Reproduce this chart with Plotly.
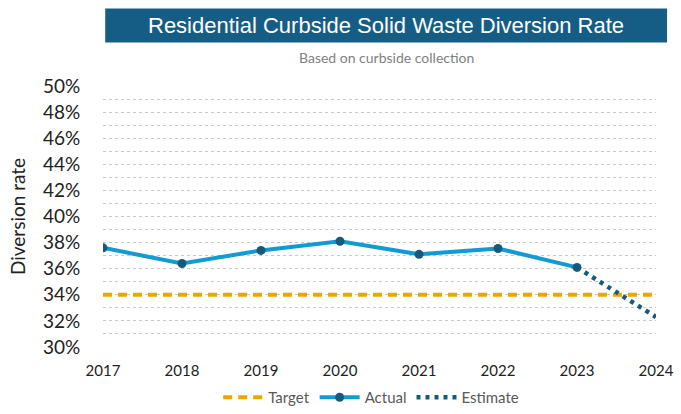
import plotly.graph_objects as go

years = [2017, 2018, 2019, 2020, 2021, 2022, 2023]
actual = [37.6, 36.4, 37.4, 38.1, 37.1, 37.55, 36.1]
est_years = [2023, 2024]
estimate = [36.1, 32.3]
target_years = [2017, 2024]
target = [34, 34]
y_ticks = list(range(30, 51, 2))
y_labels = [f"{v}%" for v in y_ticks]

fig = go.Figure()
fig.add_trace(go.Scatter(x=target_years, y=target, mode="lines", name="Target",
                         line=dict(color="#eda500", width=4, dash="9px,6px")))
fig.add_trace(go.Scatter(x=years, y=actual, mode="lines+markers", name="Actual",
                         line=dict(color="#149ad3", width=4),
                         marker=dict(color="#165a7e", size=9)))
fig.add_trace(go.Scatter(x=est_years, y=estimate, mode="lines", name="Estimate",
                         line=dict(color="#165a7e", width=4.5, dash="4px,5px")))

fig.update_layout(
    width=681, height=414,
    margin=dict(l=103, r=25, t=86, b=67, autoexpand=False),
    plot_bgcolor="white", paper_bgcolor="white",
    font=dict(family="Lato, Liberation Sans, sans-serif", color="#222222"),
    showlegend=True,
    legend=dict(orientation="h", x=0.485, xanchor="center", yref="container", y=0.0,
                yanchor="bottom", font=dict(size=15, color="#595959"), itemwidth=40),
    xaxis=dict(range=[2017, 2024], tickmode="array", tickvals=list(range(2017, 2025)),
               showgrid=False, zeroline=False, showline=False,
               tickfont=dict(size=15, color="#222222"), ticks="outside",
               ticklen=10, tickcolor="rgba(0,0,0,0)"),
    yaxis=dict(range=[30, 50], tickmode="array", tickvals=y_ticks, ticktext=y_labels,
               showgrid=True, gridcolor="#c8c8c8", griddash="dot", gridwidth=1,
               zeroline=False, showline=False, ticks="outside", ticklen=18,
               tickcolor="rgba(0,0,0,0)",
               tickfont=dict(size=19, color="#222222"),
               title=dict(text="Diversion rate", font=dict(size=19, color="#222222"), standoff=12),
               minor=dict(dtick=1, tick0=30, showgrid=True, gridcolor="#c8c8c8",
                          griddash="dot", gridwidth=1)),
    shapes=[dict(type="rect", xref="paper", yref="paper", x0=0.004, x1=1.02,
                 y0=1.167, y1=1.297, fillcolor="#165d85", line=dict(width=0),
                 layer="above")],
    annotations=[
        dict(text="Residential Curbside Solid Waste Diversion Rate", xref="paper", yref="paper",
             x=0.512, y=1.232, showarrow=False, xanchor="center", yanchor="middle",
             font=dict(family="Liberation Sans, Arial, sans-serif", size=22, color="white")),
        dict(text="Based on curbside collection", xref="paper", yref="paper",
             x=0.512, y=1.110, showarrow=False, xanchor="center", yanchor="middle",
             font=dict(family="Lato, sans-serif", size=14, color="#7f7f7f")),
    ],
)

fig.write_html("out.html", config={"displayModeBar": False},
               post_script="document.body.style.margin='0px';document.body.style.overflow='hidden';")
